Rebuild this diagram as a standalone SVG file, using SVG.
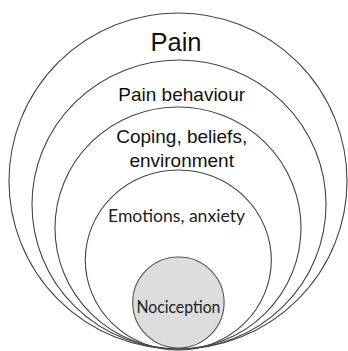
<svg xmlns="http://www.w3.org/2000/svg" width="348" height="351" viewBox="0 0 348 351">
  <style>
    .ring { fill: none; stroke: #444; stroke-width: 1.1; }
    .core { fill: #dddddd; stroke: #555; stroke-width: 1.1; }
    .arial { font-family: "Liberation Sans", Arial, sans-serif; fill: #111; text-anchor: middle; }
    .cal { font-family: Lato, "Open Sans", sans-serif; fill: #222; text-anchor: middle; }
  </style>
  <rect width="348" height="351" fill="#ffffff"/>
  <g id="pain">
    <ellipse class="ring" cx="178" cy="181" rx="169" ry="168"/>
    <text class="arial" x="176" y="51" font-size="25.5">Pain</text>
  </g>
  <g id="pain-behaviour">
    <ellipse class="ring" cx="179" cy="204.5" rx="147" ry="144.5"/>
    <text class="arial" x="181.7" y="101" font-size="19">Pain behaviour</text>
  </g>
  <g id="coping">
    <ellipse class="ring" cx="178" cy="228" rx="123" ry="121"/>
    <text class="arial" x="181.7" y="143.3" font-size="19">Coping, beliefs,</text>
    <text class="arial" x="181.7" y="166.7" font-size="19">environment</text>
  </g>
  <g id="emotions">
    <ellipse class="ring" cx="178.3" cy="260" rx="93" ry="90"/>
    <text class="cal" x="176.5" y="221.7" font-size="17.5" textLength="137" lengthAdjust="spacingAndGlyphs">Emotions, anxiety</text>
  </g>
  <g id="nociception">
    <ellipse class="core" cx="178.4" cy="302.5" rx="45.7" ry="45.5"/>
    <text class="cal" x="178.4" y="313.3" font-size="18" textLength="84" lengthAdjust="spacingAndGlyphs">Nociception</text>
  </g>
</svg>
